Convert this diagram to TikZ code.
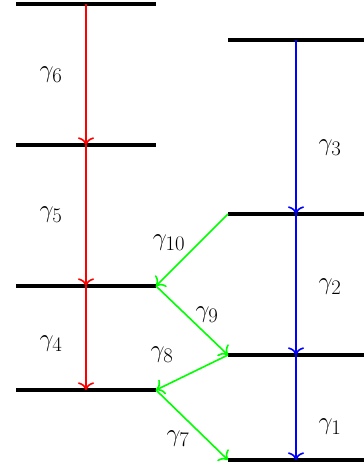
\documentclass[tikz,border=0pt]{standalone}
\usetikzlibrary{arrows.meta}
\begin{document}
\begin{tikzpicture}[x=1pt,y=-1pt,
  level/.style={line width=4pt},
  tr/.style={-{To[scale=1.5]},line width=1.6pt},
  lab/.style={font=\fontsize{24.88}{30}\selectfont, inner sep=0pt}]
\useasboundingbox (0,0) rectangle (364,469);
% left levels
\coordinate (L6a) at (16,4);   \coordinate (L6b) at (156,4);
\coordinate (L5a) at (16,145); \coordinate (L5b) at (156,145);
\coordinate (L4a) at (16,286); \coordinate (L4b) at (156,286);
\coordinate (L3a) at (16,390); \coordinate (L3b) at (156,390);
% right levels
\coordinate (R4a) at (228,40);  \coordinate (R4b) at (364,40);
\coordinate (R3a) at (228,214); \coordinate (R3b) at (364,214);
\coordinate (R2a) at (228,355); \coordinate (R2b) at (364,355);
\coordinate (R1a) at (228,460); \coordinate (R1b) at (364,460);
\foreach \p in {L6,L5,L4,L3,R4,R3,R2,R1} \draw[level] (\p a) -- (\p b);
% vertical arrow coordinates
\coordinate (l6) at (86,4);  \coordinate (l5) at (86,145);
\coordinate (l4) at (86,286); \coordinate (l3) at (86,390);
\coordinate (r4) at (296,40); \coordinate (r3) at (296,214);
\coordinate (r2) at (296,355); \coordinate (r1) at (296,460);
\draw[tr,red] (l6) -- (l5);
\draw[tr,red] (l5) -- (l4);
\draw[tr,red] (l4) -- (l3);
\draw[tr,blue] (r4) -- (r3);
\draw[tr,blue] (r3) -- (r2);
\draw[tr,blue] (r2) -- (r1);
\draw[tr,green] (R3a) -- (L4b);
\draw[tr,green] (L4b) -- (R2a);
\draw[tr,green] (R2a) -- (L3b);
\draw[tr,green] (L3b) -- (R1a);
% labels
\node[lab] (g6) at (51,75) {$\gamma_6$};
\node[lab] (g5) at (51,215) {$\gamma_5$};
\node[lab] (g4) at (51,344) {$\gamma_4$};
\node[lab] (g3) at (330,148) {$\gamma_3$};
\node[lab] (g2) at (330,287) {$\gamma_2$};
\node[lab] (g1) at (330,427) {$\gamma_1$};
\node[lab] (g10) at (169,243) {$\gamma_{10}$};
\node[lab] (g9) at (207,315) {$\gamma_9$};
\node[lab] (g8) at (162,355) {$\gamma_8$};
\node[lab] (g7) at (178,439) {$\gamma_7$};
\end{tikzpicture}
\end{document}
